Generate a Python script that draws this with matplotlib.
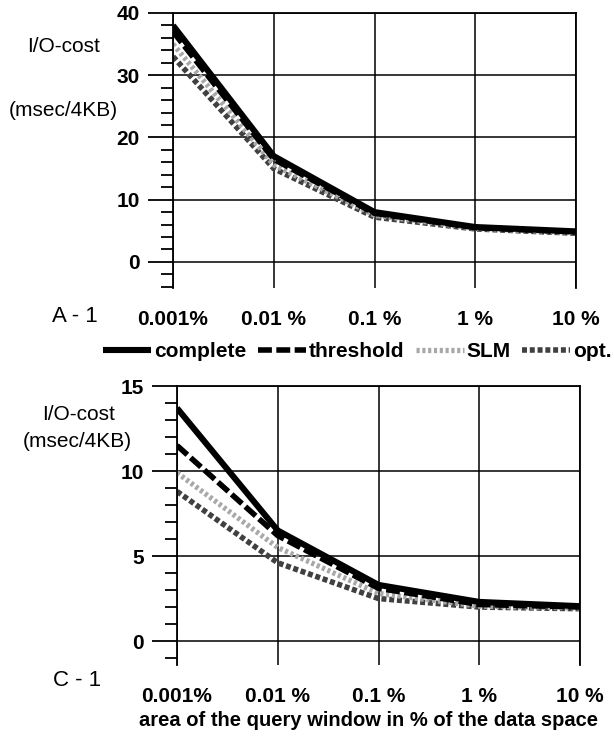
"""I/O cost vs. query window size, two panels"""
import matplotlib
matplotlib.use('Agg')
import matplotlib.pyplot as plt
from matplotlib.lines import Line2D
from matplotlib.ticker import MultipleLocator

plt.rcParams['font.family'] = ['Liberation Sans', 'DejaVu Sans']

# query window area in % of data space
windows = [0.001, 0.01, 0.1, 1, 10]
window_labels = ['0.001%', '0.01 %', '0.1 %', '1 %', '10 %']
series_names = ['complete', 'threshold', 'SLM', 'opt.']

# panel A-1
a_complete = [38.0, 17.0, 8.0, 5.6, 4.9]
a_threshold = [37.0, 16.5, 7.8, 5.5, 4.8]
a_slm = [35.0, 15.6, 7.5, 5.4, 4.7]
a_opt = [33.0, 15.0, 7.2, 5.3, 4.6]

# panel C-1
c_complete = [13.7, 6.5, 3.3, 2.3, 2.05]
c_threshold = [11.5, 6.2, 3.1, 2.15, 2.0]
c_slm = [9.9, 5.5, 2.8, 2.05, 1.95]
c_opt = [8.8, 4.6, 2.5, 2.0, 1.9]

styles = {
    'complete': dict(color='black', lw=4.4, ls='-'),
    'threshold': dict(color='black', lw=4.0, ls=(0, (2.5, 0.8))),
    'SLM': dict(color='#a8a8a8', lw=3.8, ls=(0, (0.6, 0.5))),
    'opt.': dict(color='#404040', lw=4.0, ls=(0, (0.9, 0.5))),
}

W, H = 614, 736


def fig_text(fig, px, py, s, **kw):
    # place text by pixel position in the 614x736 canvas
    fig.text(px / W, 1 - py / H, s, ha='left', va='center', **kw)


def draw_panel(ax, series, ymax, ybottom, major, minor):
    # draw from the bottom curve up so 'complete' sits on top
    for name, vals in reversed(list(zip(series_names, series))):
        ax.plot(windows, vals, solid_capstyle='butt', **styles[name])
    ax.set_xscale('log')
    ax.set_xlim(windows[0], windows[-1])
    ax.set_ylim(ybottom, ymax)
    ax.set_xticks(windows)
    ax.set_xticklabels(window_labels, fontsize=15, fontweight='bold')
    ax.minorticks_off()
    ax.tick_params(axis='x', length=0, pad=16)
    ax.yaxis.set_minor_locator(MultipleLocator(minor))
    ax.set_yticks(list(range(0, int(ymax) + 1, major)))
    ax.tick_params(axis='y', which='major', direction='out', length=18,
                   width=1.3, labelsize=15, pad=6)
    ax.tick_params(axis='y', which='minor', direction='out', length=9, width=1.3)
    for lab in ax.get_yticklabels():
        lab.set_fontweight('bold')
    ax.grid(True, which='major', color='black', lw=1.1)
    ax.spines['bottom'].set_visible(False)
    for s in ('left', 'right', 'top'):
        ax.spines[s].set_linewidth(1.3)


fig = plt.figure(figsize=(6.14, 7.36), dpi=100)

ax1 = fig.add_axes([173 / W, 1 - 288 / H, 403 / W, 275 / H])
draw_panel(ax1, [a_complete, a_threshold, a_slm, a_opt], 40, -4.2, 10, 2)
fig_text(fig, 27, 47, 'I/O-cost', fontsize=15)
fig_text(fig, 9, 110, '(msec/4KB)', fontsize=15)
fig_text(fig, 52, 317, 'A - 1', fontsize=16)

ax2 = fig.add_axes([177 / W, 1 - 665 / H, 403 / W, 279 / H])
draw_panel(ax2, [c_complete, c_threshold, c_slm, c_opt], 15, -1.41, 5, 1)
fig_text(fig, 42, 415, 'I/O-cost', fontsize=15)
fig_text(fig, 23, 442, '(msec/4KB)', fontsize=15)
fig_text(fig, 53, 680, 'C - 1', fontsize=16)
ax2.set_xlabel('area of the query window in % of the data space',
               fontsize=14.5, fontweight='bold')
ax2.xaxis.set_label_coords(0.474, -0.165)

handles = [Line2D([], [], solid_capstyle='butt', **styles[n]) for n in series_names]
fig.legend(handles, series_names, loc='center', bbox_to_anchor=(0.582, 0.522),
           ncol=4, frameon=False, handlelength=2.3, handletextpad=0.15,
           columnspacing=0.55, prop={'size': 15, 'weight': 'bold'})

fig.savefig('out.png', dpi=100)
